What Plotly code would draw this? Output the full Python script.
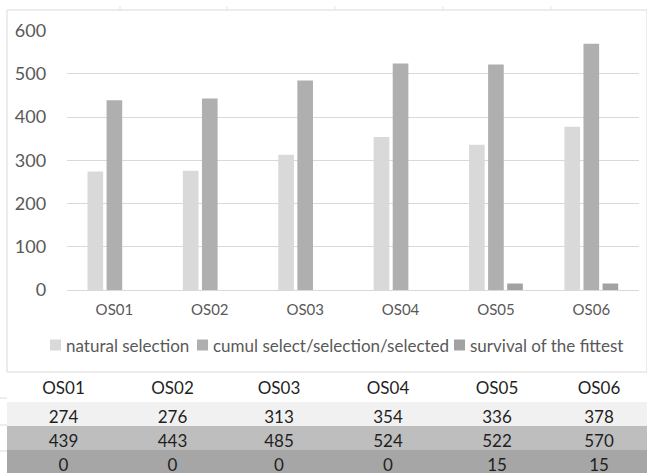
import plotly.graph_objects as go

# Data
categories = ["OS01", "OS02", "OS03", "OS04", "OS05", "OS06"]
natural_selection = [274, 276, 313, 354, 336, 378]
cumul_selection = [439, 443, 485, 524, 522, 570]
survival_fittest = [0, 0, 0, 0, 15, 15]
series_names = ["natural selection", "cumul select/selection/selected", "survival of the fittest"]
y_ticks = [0, 100, 200, 300, 400, 500, 600]

W, H = 647, 474
FONT = "Lato"
AXIS_GREY = "#595959"
GRID = "#d9d9d9"
bar_colors = ["#d9d9d9", "#afafaf", "#a2a2a2"]
row_fills = ["#f1f1f1", "#bebebe", "#a6a6a6"]


def px_y(y):
    return 1 - y / H


def px_x(x):
    return x / W


fig = go.Figure()

for name, vals, col in zip(series_names, [natural_selection, cumul_selection, survival_fittest], bar_colors):
    fig.add_trace(go.Bar(
        x=categories, y=vals, name=name, marker=dict(color=col, line=dict(width=0)),
        hoverinfo="x+y+name", showlegend=False,
    ))

# Data table underneath the chart
fig.add_trace(go.Table(
    domain=dict(x=[px_x(7), 1.0], y=[0.0, px_y(373)]),
    columnwidth=[113, 105, 108, 110, 108, 96],
    header=dict(
        values=categories,
        fill=dict(color="white"),
        line=dict(color="white", width=0),
        font=dict(family=FONT, size=17, color="#1f1f1f"),
        align="center",
        height=29,
    ),
    cells=dict(
        values=[[n, c, s] for n, c, s in zip(natural_selection, cumul_selection, survival_fittest)],
        fill=dict(color=[row_fills] * len(categories)),
        line=dict(color=[row_fills] * len(categories), width=0),
        font=dict(family=FONT, size=17, color="#1f1f1f"),
        align="center",
        height=24,
    ),
))

fig.update_layout(
    width=W, height=H,
    margin=dict(l=0, r=0, t=0, b=0, autoexpand=False),
    paper_bgcolor="white", plot_bgcolor="white",
    barmode="group", bargap=0.40, bargroupgap=0.18,
    font=dict(family=FONT, color=AXIS_GREY),
    showlegend=False,
    xaxis=dict(
        domain=[px_x(66.7), px_x(639)],
        showgrid=False, showline=False, zeroline=False,
        ticks="outside", ticklen=6, tickcolor="rgba(0,0,0,0)",
        tickfont=dict(family=FONT, size=15, color=AXIS_GREY),
        fixedrange=True, automargin=False,
    ),
    yaxis=dict(
        domain=[px_y(290), px_y(30.7)],
        range=[0, 600], tickvals=y_ticks,
        showgrid=True, gridcolor=GRID, gridwidth=1,
        zeroline=True, zerolinecolor=GRID, zerolinewidth=1,
        showline=False,
        ticks="outside", ticklen=16, tickcolor="rgba(0,0,0,0)",
        tickfont=dict(family=FONT, size=18, color=AXIS_GREY),
        fixedrange=True, automargin=False,
    ),
)

# Legend row: swatch + label per series
legend_swatch_x = [50, 197, 454]
legend_y = 345
for name, col, sx in zip(series_names, bar_colors, legend_swatch_x):
    fig.add_shape(type="rect", xref="paper", yref="paper",
                  x0=px_x(sx), x1=px_x(sx + 11),
                  y0=px_y(legend_y + 5.5), y1=px_y(legend_y - 5.5),
                  fillcolor=col, line=dict(width=0))
    fig.add_annotation(xref="paper", yref="paper", x=px_x(sx + 14), y=px_y(legend_y),
                       xanchor="left", yanchor="middle", text=name, showarrow=False,
                       font=dict(family=FONT, size=17, color=AXIS_GREY))

# Chart frame
fig.add_shape(type="rect", xref="paper", yref="paper",
              x0=px_x(7), x1=1.0, y0=px_y(372), y1=px_y(10),
              line=dict(color=GRID, width=1), fillcolor="rgba(0,0,0,0)", layer="below")

# Faint sheet gridlines around the frame
for gx in [120, 227, 335, 443, 551]:
    fig.add_shape(type="line", xref="paper", yref="paper",
                  x0=px_x(gx), x1=px_x(gx), y0=px_y(6), y1=px_y(10),
                  line=dict(color="#e4e4e4", width=1))
for gy in [398, 425, 451]:
    fig.add_shape(type="line", xref="paper", yref="paper",
                  x0=0, x1=px_x(7), y0=px_y(gy), y1=px_y(gy),
                  line=dict(color="#dcdcdc", width=1))

fig.write_html("out.html")
